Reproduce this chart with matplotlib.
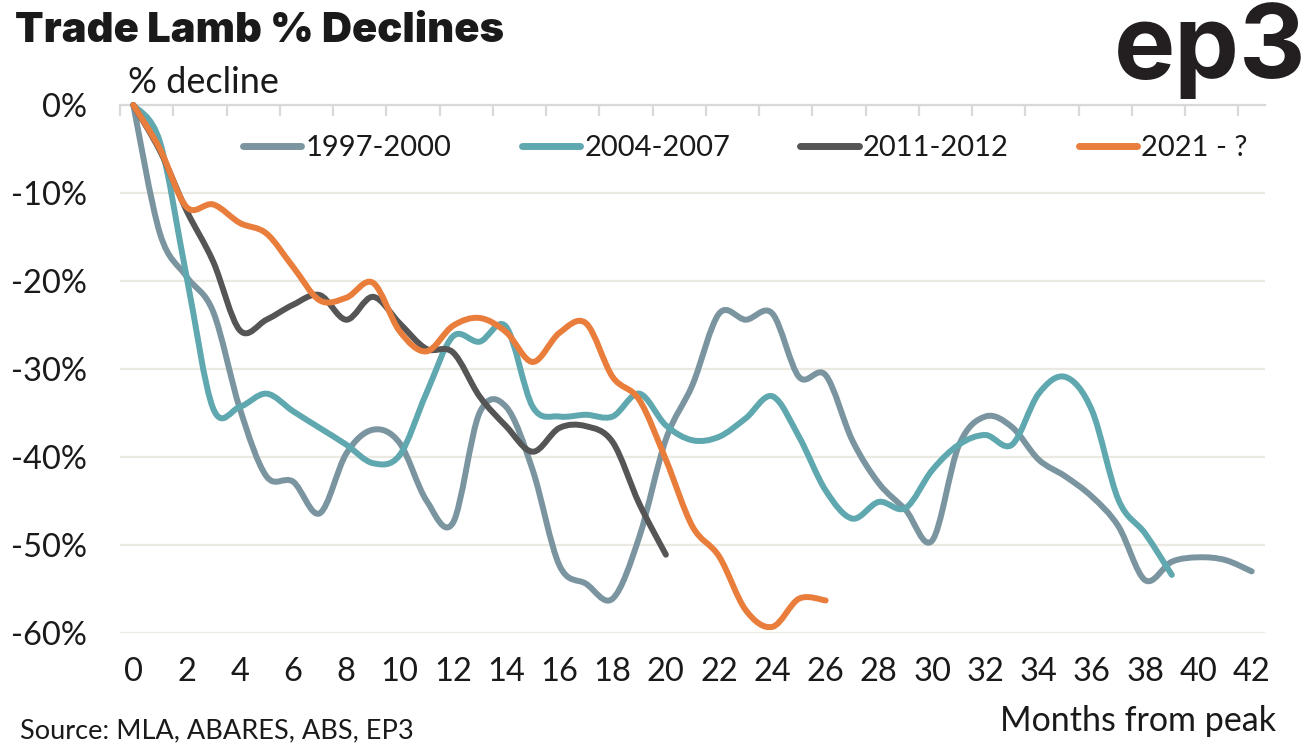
import numpy as np
import matplotlib
matplotlib.use("Agg")
import matplotlib.pyplot as plt
from matplotlib.path import Path
from matplotlib.patches import PathPatch
from matplotlib.lines import Line2D
from matplotlib.ticker import FuncFormatter

# % decline from peak, one value per month
s_1997 = [0, -14.6, -19.5, -23.5, -34.5, -42.2, -42.8, -46.4, -39.6, -36.9, -38.4, -44.9,
          -47.5, -35.0, -34.3, -41.5, -52.3, -54.4, -56.1, -49.1, -38.0, -31.8, -23.7, -24.4,
          -23.7, -30.9, -30.7, -38.1, -43.0, -46.0, -49.5, -38.7, -35.4, -36.6, -40.3, -42.2,
          -44.5, -47.9, -54.0, -51.9, -51.4, -51.7, -53.0]
s_2004 = [0, -4.2, -19.5, -34.5, -34.3, -32.8, -34.8, -36.7, -38.6, -40.7, -39.8, -32.8,
          -26.3, -26.9, -25.2, -34.3, -35.4, -35.2, -35.4, -32.8, -36.4, -38.1, -37.7, -35.6,
          -33.1, -37.7, -43.8, -47.0, -45.1, -45.8, -41.5, -38.6, -37.5, -38.6, -32.8, -30.9,
          -34.7, -44.9, -48.7, -53.4]
s_2011 = [0, -5.2, -12.0, -17.8, -25.6, -24.4, -22.7, -21.6, -24.4, -21.8, -24.8, -27.7,
          -28.1, -33.1, -36.5, -39.4, -36.7, -36.5, -38.3, -45.3, -51.1]
s_2021 = [0, -5.0, -11.6, -11.3, -13.4, -14.6, -18.4, -22.2, -21.9, -20.2, -25.7, -28.0,
          -25.1, -24.2, -25.8, -29.2, -25.9, -24.8, -30.9, -33.5, -40.3, -47.9, -51.3, -57.4,
          -59.3, -56.1, -56.3]

labels = ["1997-2000", "2004-2007", "2011-2012", "2021 - ?"]
colors = ["#7B95A0", "#5FA8AF", "#555555", "#E97D3B"]
x_ticks = list(range(0, 43, 2))
y_ticks = [0, -10, -20, -30, -40, -50, -60]

plt.rcParams["font.family"] = ["Lato", "DejaVu Sans"]
plt.rcParams["axes.unicode_minus"] = False
txt = "#1A1A1A"


def smooth_path(y):
    # excel-style smoothed line: cubic bezier segments through the monthly points
    pts = np.column_stack([np.arange(len(y)), np.array(y, dtype=float)])
    verts = [pts[0]]
    codes = [Path.MOVETO]
    n = len(pts)
    for i in range(n - 1):
        p0 = pts[max(i - 1, 0)]
        p1 = pts[i]
        p2 = pts[i + 1]
        p3 = pts[min(i + 2, n - 1)]
        verts += [p1 + (p2 - p0) / 6, p2 - (p3 - p1) / 6, p2]
        codes += [Path.CURVE4] * 3
    return Path(verts, codes)


fig = plt.figure(figsize=(13.12, 7.46), dpi=100)
ax = fig.add_axes([120 / 1312, 1 - 633 / 746, 1145 / 1312, 528 / 746])

for s, c in zip([s_1997, s_2004, s_2011, s_2021], colors):
    ax.add_patch(PathPatch(smooth_path(s), fill=False, edgecolor=c, lw=4.3,
                           capstyle="round", joinstyle="round", clip_on=False, zorder=3))

ax.set_xlim(-0.5, 42.5)
ax.set_ylim(-60, 0)
ax.set_yticks(y_ticks)
ax.yaxis.set_major_formatter(FuncFormatter(lambda v, p: f"{v:.0f}%"))
ax.set_xticks(x_ticks)
ax.set_xticks(np.arange(-0.5, 43, 2), minor=True)
ax.grid(axis="y", color="#EAEAE2", lw=1.6, zorder=0)
ax.tick_params(which="major", length=0, labelsize=23.5, labelcolor=txt)
ax.tick_params(axis="y", pad=24)
ax.tick_params(axis="x", pad=17)
ax.tick_params(which="minor", axis="x", top=True, bottom=False, direction="in",
               length=8, width=1.6, color="#D9D9D9")
for side in ["left", "right", "bottom"]:
    ax.spines[side].set_visible(False)
ax.spines["top"].set_color("#D9D9D9")
ax.spines["top"].set_linewidth(1.6)

handles = [Line2D([], [], color=c, lw=5, solid_capstyle="round") for c in colors]
fig.legend(handles, labels, ncol=4, frameon=False, fontsize=21, loc="center left",
           bbox_to_anchor=(243 / 1312, 1 - 148 / 746), handlelength=2.0,
           handletextpad=0.15, columnspacing=2.4, borderpad=0, borderaxespad=0,
           labelcolor=txt)

fig.text(15 / 1312, 1 - 42 / 746, "Trade Lamb % Declines", fontsize=30,
         fontweight="black", color=txt, ha="left", va="baseline",
         family=["Inter", "DejaVu Sans"])
fig.text(1306 / 1312, 1 - 78 / 746, "ep3", fontsize=74, fontweight="bold",
         color="#231F20", ha="right", va="baseline", family=["Inter", "DejaVu Sans"])
fig.text(128 / 1312, 1 - 93 / 746, "% decline", fontsize=26, color=txt,
         ha="left", va="baseline")
fig.text(1276 / 1312, 1 - 731 / 746, "Months from peak", fontsize=24.5, color=txt,
         ha="right", va="baseline")
fig.text(20 / 1312, 1 - 738 / 746, "Source: MLA, ABARES, ABS, EP3", fontsize=19.5,
         color=txt, ha="left", va="baseline")

fig.savefig("out.png", dpi=100)
